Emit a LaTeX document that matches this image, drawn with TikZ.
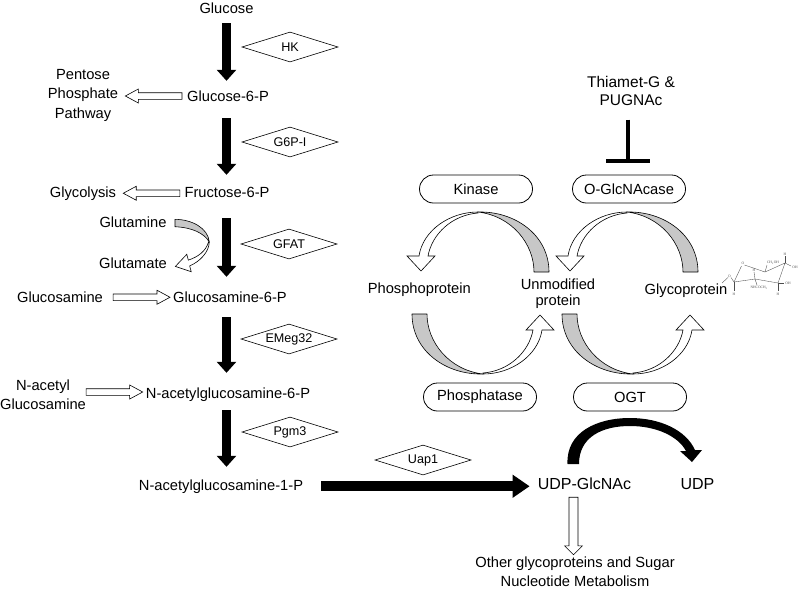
\documentclass[tikz,border=0pt]{standalone}
\usepackage{fontspec}
\setmainfont{Liberation Sans}
\newfontfamily\sugarfont{Liberation Serif}
\usetikzlibrary{arrows.meta,shapes.geometric,shapes.misc,calc}

\tikzset{
 lbl/.style={font=\fontsize{14.7}{19}\selectfont, inner sep=0pt, text height=10.5pt, text depth=3pt, anchor=base},
 mlbl/.style={font=\fontsize{14.7}{19}\selectfont, inner sep=0pt, align=center},
 enz/.style={diamond, draw, line width=0.6pt, aspect=3, inner sep=0pt, minimum width=96pt, minimum height=30pt, font=\fontsize{12.6}{14}\selectfont},
 pill/.style={rounded rectangle, draw, line width=0.8pt, minimum width=113pt, minimum height=28pt, inner sep=0pt, font=\fontsize{14.7}{17}\selectfont},
 blk/.style={line width=9.5pt, -{Triangle[length=11pt,width=19pt]}},
 hollow/.style={draw, fill=white, line width=0.6pt, line join=miter},
 ribgrey/.style={draw, fill=black!22, line width=0.6pt, line join=round},
 ribwhite/.style={draw, fill=white, line width=0.6pt, line join=miter},
 inhib/.style={line width=4pt},
 sug/.style={draw=black!70, line width=0.35pt},
 suglbl/.style={font=\sugarfont\fontsize{3.6}{4}\selectfont, inner sep=0pt, text=black!70},
}

% horizontal hollow block arrow from #1 to #2 (y of #1 used)
\newcommand\hollowH[2]{%
 \draw[hollow] let \p1=(#1), \p2=(#2), \n1={sign(\x2-\x1)} in
 (\x1,{\y1+3.3pt}) -- ({\x2-(\n1)*13pt},{\y1+3.3pt}) -- ({\x2-(\n1)*13pt},{\y1+7pt})
 -- (\x2,\y1) -- ({\x2-(\n1)*13pt},{\y1-7pt}) -- ({\x2-(\n1)*13pt},{\y1-3.3pt}) -- (\x1,{\y1-3.3pt}) -- cycle;}
% vertical hollow block arrow from #1 to #2 (x of #1 used)
\newcommand\hollowV[2]{%
 \draw[hollow] let \p1=(#1), \p2=(#2), \n1={sign(\y2-\y1)} in
 ({\x1+4.5pt},\y1) -- ({\x1+4.5pt},{\y2-(\n1)*9pt}) -- ({\x1+9pt},{\y2-(\n1)*9pt})
 -- (\x1,\y2) -- ({\x1-9pt},{\y2-(\n1)*9pt}) -- ({\x1-4.5pt},{\y2-(\n1)*9pt}) -- ({\x1-4.5pt},\y1) -- cycle;}
% 3D ribbon curved arrow (kinase position)
\newcommand\ribbonarrow{%
 \path[ribgrey] (478,212) .. controls (515,211) and (549,235) .. (549,272) -- (534,272)
   .. controls (534,244) and (512,216) .. (478,212) -- cycle;
 \path[ribwhite] (478,212) .. controls (450,212) and (423,230) .. (419,256) -- (407,256) -- (421,271)
   -- (435,256) -- (428,256) .. controls (432,234) and (452,215) .. (478,213) -- cycle;}

\begin{document}
\begin{tikzpicture}[x=1pt,y=-1pt]
\useasboundingbox (0,0) rectangle (798,590);

% ---- main pathway labels ----
\node[lbl] (glc) at (226.5,13) {Glucose};
\node[lbl] (g6p) at (228,101) {Glucose-6-P};
\node[mlbl, font=\fontsize{14.7}{19.5}\selectfont] (ppp) at (83,94.6) {\strut Pentose\\\strut Phosphate\\\strut Pathway};
\node[lbl] (f6p) at (227,197) {Fructose-6-P};
\node[lbl] (gly) at (83,197) {Glycolysis};
\node[lbl] (gln) at (133,227) {Glutamine};
\node[lbl] (glu) at (133,268) {Glutamate};
\node[lbl] (gn6p) at (230,302) {Glucosamine-6-P};
\node[lbl] (gn) at (60,302) {Glucosamine};
\node[lbl] (nag6p) at (228,398) {N-acetylglucosamine-6-P};
\node[mlbl] (nagl) at (43,395.7) {\strut N-acetyl\\\strut Glucosamine};
\node[lbl] (nag1p) at (221,490) {N-acetylglucosamine-1-P};
\node[lbl, font=\fontsize{16}{19}\selectfont] (udpg) at (584.5,489) {UDP-GlcNAc};
\node[lbl, font=\fontsize{16}{19}\selectfont] (udp) at (697.5,489) {UDP};
\node[mlbl] (oth) at (575,572.7) {\strut Other glycoproteins and Sugar\\\strut Nucleotide Metabolism};

% ---- enzymes (diamonds) ----
\node[enz] (hk) at (290,47) {HK};
\node[enz] (g6pi) at (290,142) {G6P-I};
\node[enz] (gfat) at (289,244) {GFAT};
\node[enz] (emeg) at (289,339) {EMeg32};
\node[enz] (pgm) at (290,432) {Pgm3};
\node[enz] (uap) at (423,460) {Uap1};

% ---- black pathway arrows ----
\coordinate (col) at (226.5,0);
\draw[blk, shorten <=7pt, shorten >=9.5pt] (col |- glc.south) -- (col |- g6p.north);
\draw[blk, shorten <=14pt, shorten >=11.5pt] (col |- g6p.south) -- (col |- f6p.north);
\draw[blk, shorten <=18pt, shorten >=14.5pt] (col |- f6p.south) -- (col |- gn6p.north);
\draw[blk, shorten <=12pt, shorten >=14.5pt] (col |- gn6p.south) -- (col |- nag6p.north);
\draw[blk, shorten <=9pt, shorten >=12.5pt] (col |- nag6p.south) -- (col |- nag1p.north);
\draw[line width=10pt, -{Triangle[length=17pt,width=22pt]}, shorten <=18pt, shorten >=8pt]
  (nag1p.east) -- (nag1p.east -| udpg.west);

% ---- hollow side arrows ----
\hollowH{[xshift=-5pt,yshift=1.25pt]g6p.west}{[xshift=7pt]ppp.east}
\hollowH{[xshift=-4.5pt]f6p.west}{[xshift=7pt]gly.east}
\hollowH{[xshift=10pt,yshift=1pt]gn.east}{[xshift=-3pt]gn6p.west}
\hollowH{[yshift=3.7pt]nagl.east}{[xshift=-3pt]nag6p.west}
\hollowV{[xshift=-11pt,yshift=-5pt]udpg.south}{[yshift=-1.3pt]oth.north}

% ---- glutamine -> glutamate curved arrow ----
\path[ribgrey] (175,219.3) .. controls (192,219.5) and (208,228) .. (209.3,242)
  .. controls (204,233) and (192,227.5) .. (175,226.7) -- cycle;
\path[ribwhite] (209.3,242) .. controls (209,252) and (200,261.5) .. (189.7,265.9) -- (191.2,271.7)
  -- (175.4,266.4) -- (186.8,254.3) -- (188.3,260.1) .. controls (198,257) and (206,251) .. (208.5,242) -- cycle;

% ---- cycle boxes ----
\node[pill] (kin) at (476,189) {Kinase};
\node[pill] (ogl) at (629,189) {O-GlcNAcase};
\node[pill] (pph) at (480,397) {Phosphatase};
\node[pill] (ogt) at (630,397) {OGT};

\node[lbl] (phos) at (419.3,293) {Phosphoprotein};
\node[mlbl, font=\fontsize{14.7}{16.5}\selectfont] (unm) at (558,294.4) {\strut Unmodified\\\strut protein};
\node[lbl] (glyp) at (686,294) {Glycoprotein};

% ---- ribbon arrows ----
\ribbonarrow
\begin{scope}[xshift=149pt]\ribbonarrow\end{scope}
\begin{scope}[rotate around={180:(480.5,293)}]\ribbonarrow\end{scope}
\begin{scope}[rotate around={180:(555.5,293)}]\ribbonarrow\end{scope}

% ---- inhibitor ----
\node[mlbl, font=\fontsize{15.5}{18}\selectfont] (thi) at (631,92.4) {\strut Thiamet-G \&\\\strut PUGNAc};
\draw[inhib] ([xshift=-1pt,yshift=55pt]ogl.north) -- ([xshift=-1pt,yshift=14pt]ogl.north);
\draw[inhib] ([xshift=-23pt,yshift=14pt]ogl.north) -- ([xshift=21pt,yshift=14pt]ogl.north);

% ---- UDP-GlcNAc -> UDP black curved arrow ----
\fill[black] (567.5,464) .. controls (566,432) and (597,418) .. (630,418)
  .. controls (660,418) and (686,430) .. (695,450) -- (702,450) -- (692,462) -- (680,451) -- (686,451)
  .. controls (678,436) and (656,426) .. (630,426) .. controls (602,426) and (579,437) .. (579,464) -- cycle;

% ---- sugar structure ----
\draw[sug] (722,283) -- (728,277.5);
\node[suglbl] (sgo) at (729.5,276) {O};
\draw[sug] (731,277.5) -- (734,282);
\draw[sug] (734,282) -- (741.5,266);
\draw[sug] (744.5,265) -- (765,272) -- (785,263) -- (778,283) -- (755,279) -- (734,282);
\node[suglbl] (so5) at (743,263.5) {O};
\draw[sug] (734,282) -- (734,291); \node[suglbl] (sh1) at (734,294) {H};
\draw[sug] (765,272) -- (767,265); \node[suglbl] (sch) at (773,262.5) {CH\textsubscript{2}OH};
\draw[sug] (785,263) -- (785,256); \node[suglbl] (sh4) at (785,254) {H};
\draw[sug] (785,263) -- (791,266); \node[suglbl] (soh4) at (795,267) {OH};
\draw[sug] (778,283) -- (784,283); \node[suglbl] (soh3) at (788,283) {OH};
\draw[sug] (778,283) -- (778,291); \node[suglbl] (sh3) at (778,294) {H};
\draw[sug] (755,279) -- (754,272); \node[suglbl] (sh2) at (754,270) {H};
\draw[sug] (755,279) -- (757,285); \node[suglbl] (snh) at (759,287.5) {NHCOCH\textsubscript{3}};
\end{tikzpicture}
\end{document}
